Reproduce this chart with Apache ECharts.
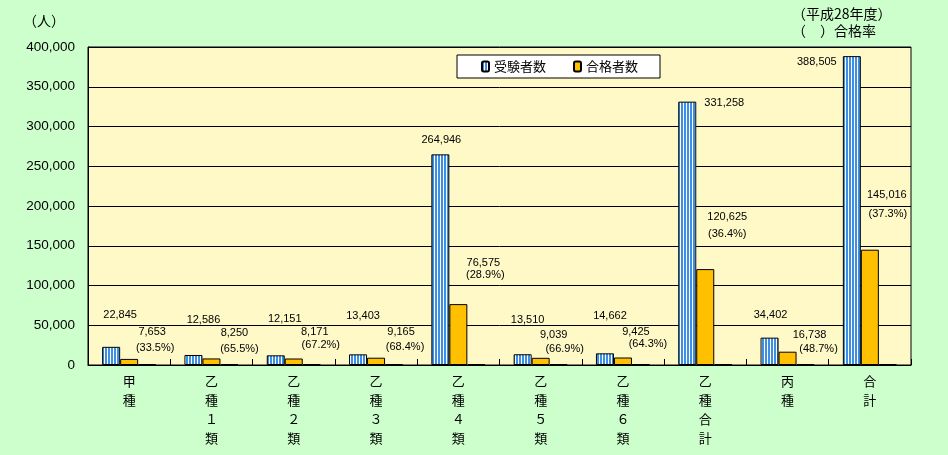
<!DOCTYPE html>
<html>
<head>
<meta charset="utf-8">
<script src="https://cdn.jsdelivr.net/npm/echarts@6/dist/echarts.min.js"></script>
<style>
html,body{margin:0;padding:0;background:#ccffcc;}
#c{width:948px;height:455px;}
</style>
</head>
<body>
<div id="c"></div>
<script>
// ---- data ----
const categories = ['甲種', '乙種１類', '乙種２類', '乙種３類', '乙種４類', '乙種５類', '乙種６類', '乙種合計', '丙種', '合計'];
const examinees = [22845, 12586, 12151, 13403, 264946, 13510, 14662, 331258, 34402, 388505];
const passers = [7653, 8250, 8171, 9165, 76575, 9039, 9425, 120625, 16738, 145016];
const passRates = [33.5, 65.5, 67.2, 68.4, 28.9, 66.9, 64.3, 36.4, 48.7, 37.3];
const yTicks = [0, 50000, 100000, 150000, 200000, 250000, 300000, 350000, 400000];

// ---- label placement (style only: pixel offsets from each bar's top centre) ----
const examLabelOffsets = [[9,-32],[10,-35],[9,-36],[5,-38],[1,-14],[5,-34],[5,-37],[37,1],[1,-23],[-35,6]];
const passLabelOffsets = [[23,-27],[23,-25],[21,-27],[25,-26],[25,-41],[13,-23],[13,-26],[22,-52],[22,-17],[17,-55]];
const rateLabelOffsets = [[8,-16],[10,-15],[9,-19],[11,-17],[9,-89],[6,-15],[7,-20],[4,-130],[13,-15],[0,-150]];

const fmt = v => v.toLocaleString('en-US');
const NUMFONT = '"Liberation Sans", Arial, "Noto Sans CJK JP", sans-serif';
const CJKFONT = '"Noto Sans CJK JP", "Liberation Sans", sans-serif';

// striped pattern for the blue bars
const pat = document.createElement('canvas');
pat.width = 3; pat.height = 4;
const pc = pat.getContext('2d');
pc.fillStyle = '#ffffff'; pc.fillRect(0,0,3,4);
pc.fillStyle = '#3d8fe3'; pc.fillRect(0,0,2,4);

function lbl(off, text, size) {
  return {
    show: true, position: ['50%', 0], align: 'center', verticalAlign: 'middle',
    offset: off, formatter: text, fontSize: size || 11, color: '#000', fontFamily: NUMFONT
  };
}

const examData = examinees.map((v, i) => ({ value: v, label: lbl(examLabelOffsets[i], fmt(v)) }));
const passData = passers.map((v, i) => ({ value: v, label: lbl(passLabelOffsets[i], fmt(v)) }));
const rateData = passRates.map((v, i) => ({ value: v, label: lbl(rateLabelOffsets[i], '(' + v.toFixed(1) + '%)') }));

const chart = echarts.init(document.getElementById('c'), null, { renderer: 'canvas' });
chart.setOption({
  backgroundColor: '#ccffcc',
  animation: false,
  textStyle: { fontFamily: NUMFONT },
  grid: { left: 88, right: 37, top: 47, bottom: 90, show: true, backgroundColor: '#fff9c8', borderColor: '#000', borderWidth: 1 },
  legend: {
    data: ['受験者数', '合格者数'],
    left: 457, top: 55,
    backgroundColor: '#ffffff', borderColor: '#000', borderWidth: 1,
    padding: [5, 22, 5, 24],
    itemWidth: 7, itemHeight: 10, itemGap: 27,
    textStyle: { fontSize: 13, fontFamily: CJKFONT, color: '#000' }
  },
  xAxis: {
    type: 'category', data: categories,
    axisLine: { show: true, lineStyle: { color: '#000' } },
    axisTick: { show: true, inside: true, length: 6, interval: 0, lineStyle: { color: '#000' } },
    axisLabel: {
      interval: 0, margin: 7, fontSize: 13, lineHeight: 19, color: '#000', fontFamily: CJKFONT,
      formatter: v => v.split('').join('\n')
    }
  },
  yAxis: {
    type: 'value', min: yTicks[0], max: yTicks[yTicks.length - 1], interval: yTicks[1] - yTicks[0],
    axisLine: { show: true, lineStyle: { color: '#000' } },
    axisTick: { show: false },
    splitLine: { show: true, lineStyle: { color: '#000', width: 1 } },
    axisLabel: { fontSize: 13.5, color: '#000', margin: 13, fontFamily: NUMFONT, formatter: v => fmt(v) }
  },
  series: [
    { name: '受験者数', type: 'bar', barWidth: 18, barGap: '0%', data: examData,
      itemStyle: { color: { image: pat, repeat: 'repeat' }, borderColor: '#000', borderWidth: 1 } },
    { name: '合格者数', type: 'bar', barWidth: 18, barGap: '0%', data: passData,
      itemStyle: { color: '#ffc000', borderColor: '#000', borderWidth: 1 } },
    { name: '合格率', type: 'bar', barWidth: 18, barGap: '0%', barMinHeight: 1, data: rateData,
      itemStyle: { color: '#000', borderColor: '#000', borderWidth: 1 } }
  ],
  graphic: [
    { type: 'text', left: 23, top: 14, style: { text: '（人）', font: '14px ' + CJKFONT, fill: '#000' } },
    { type: 'text', left: 792, top: 7, style: { text: '（平成28年度）', font: '14px ' + CJKFONT, fill: '#000' } },
    { type: 'text', left: 792, top: 24, style: { text: '（　）合格率', font: '14px ' + CJKFONT, fill: '#000' } }
  ]
});
</script>
</body>
</html>
